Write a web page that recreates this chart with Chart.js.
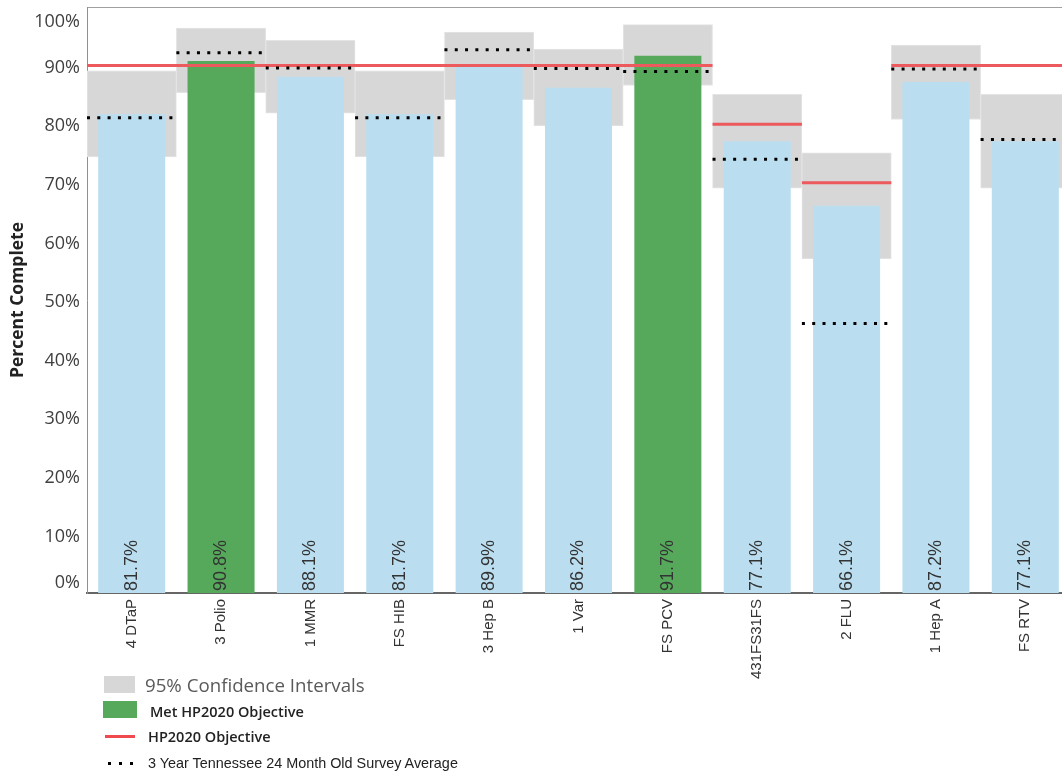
<!DOCTYPE html>
<html>
<head>
<meta charset="utf-8">
<script src="https://cdn.jsdelivr.net/npm/chart.js@4.4.1/dist/chart.umd.min.js"></script>
<style>
  body { margin: 0; background: #fff; overflow: hidden; width: 1062px; height: 776px; position: relative; }
  #wrap { position: absolute; left: 0; top: 0; width: 1080px; height: 680px; }
  .lg { position: absolute; white-space: nowrap; }
  .sw { position: absolute; }
  .dot { position: absolute; width: 3px; height: 3px; background: #000; }
</style>
</head>
<body>
<div id="wrap"><canvas id="vaxChart"></canvas></div>

<div class="sw" style="left:104px;top:676px;width:31px;height:17px;background:#d7d7d7"></div>
<div class="lg" style="left:145px;top:672px;line-height:24px;font:18.7px 'Open Sans',sans-serif;color:#5a5a5a">95% Confidence Intervals</div>
<div class="sw" style="left:103px;top:701px;width:34px;height:17px;background:#56a95b"></div>
<div class="lg" style="left:150px;top:702px;line-height:20px;font:600 14.5px 'Open Sans',sans-serif;color:#222">Met HP2020 Objective</div>
<div class="sw" style="left:105px;top:735px;width:30px;height:3px;background:#f04a4f"></div>
<div class="lg" style="left:148px;top:727px;line-height:20px;font:600 14.5px 'Open Sans',sans-serif;color:#222">HP2020 Objective</div>
<div class="dot" style="left:108px;top:762px"></div>
<div class="dot" style="left:119px;top:762px"></div>
<div class="dot" style="left:130px;top:762px"></div>
<div class="lg" style="left:148px;top:755px;line-height:20px;font:14.4px 'Liberation Sans',Arial,sans-serif;color:#222">3 Year Tennessee 24 Month Old Survey Average</div>

<script>
const categories = ['4 DTaP', '3 Polio', '1 MMR', 'FS HIB', '3 Hep B', '1 Var', 'FS PCV', '431FS31FS', '2 FLU', '1 Hep A', 'FS RTV'];
const percentComplete = [81.7, 90.8, 88.1, 81.7, 89.9, 86.2, 91.7, 77.1, 66.1, 87.2, 77.1];
const ciLow = [74.4, 85.4, 81.9, 74.4, 84.2, 79.7, 86.6, 69.1, 57.0, 80.8, 69.1];
const ciHigh = [89.1, 96.4, 94.3, 89.1, 95.7, 92.8, 97.0, 85.1, 75.1, 93.5, 85.1];
const hp2020Objective = [90, 90, 90, 90, 90, 90, 90, 80, 70, 90, 90];
const surveyAverage = [81.1, 92.2, 89.6, 81.1, 92.7, 89.5, 89.0, 74.0, 46.0, 89.4, 77.4];
const yTickValues = [0, 10, 20, 30, 40, 50, 60, 70, 80, 90, 100];

// one horizontal segment per category on the hidden linear axis
function segments(values) {
  const pts = [];
  values.forEach((v, i) => {
    pts.push({x: i - 0.5, y: v}, {x: i + 0.5, y: v}, {x: i + 0.5, y: null});
  });
  return pts;
}

const barColors = percentComplete.map((v, i) => v >= hp2020Objective[i] ? '#56a95b' : '#badef0');

const valueLabels = {
  id: 'valueLabels',
  afterDatasetsDraw(chart) {
    const ctx = chart.ctx;
    const meta = chart.getDatasetMeta(1);
    ctx.save();
    ctx.font = '18px "Liberation Sans", Arial, sans-serif';
    ctx.fillStyle = '#333';
    ctx.textAlign = 'left';
    ctx.textBaseline = 'middle';
    meta.data.forEach((bar, i) => {
      ctx.save();
      ctx.translate(bar.x, chart.chartArea.bottom - 2);
      ctx.rotate(-Math.PI / 2);
      ctx.fillText(percentComplete[i].toFixed(1) + '%', 0, 0);
      ctx.restore();
    });
    ctx.restore();
  }
};

// Tableau keeps the end labels inside the frame
const edgeTicks = {
  id: 'edgeTicks',
  afterDraw(chart) {
    const y = chart.scales.y;
    const ctx = chart.ctx;
    ctx.save();
    ctx.font = '18px "Open Sans", sans-serif';
    ctx.fillStyle = '#404040';
    ctx.textAlign = 'right';
    ctx.textBaseline = 'middle';
    ctx.fillText(yTickValues[yTickValues.length - 1] + '%', y.right - 7, y.getPixelForValue(100) + 15);
    ctx.fillText(yTickValues[0] + '%', y.right - 7, y.getPixelForValue(0) - 10);
    ctx.restore();
  }
};

new Chart(document.getElementById('vaxChart'), {
  data: {
    labels: categories,
    datasets: [{
      type: 'bar',
      label: '95% Confidence Intervals',
      data: ciLow.map((lo, i) => [lo, ciHigh[i]]),
      backgroundColor: '#d7d7d7',
      borderColor: '#e4e4e4',
      borderWidth: 1,
      borderSkipped: false,
      barPercentage: 1,
      categoryPercentage: 1,
      grouped: false,
      order: 4
    }, {
      type: 'bar',
      label: 'Percent Complete',
      data: percentComplete,
      backgroundColor: barColors,
      barPercentage: 0.75,
      categoryPercentage: 1,
      grouped: false,
      order: 3
    }, {
      type: 'line',
      label: 'HP2020 Objective',
      xAxisID: 'xl',
      data: segments(hp2020Objective),
      borderColor: '#ec5a5e',
      borderWidth: 3,
      pointRadius: 0,
      spanGaps: false,
      order: 2
    }, {
      type: 'line',
      label: '3 Year Tennessee 24 Month Old Survey Average',
      xAxisID: 'xl',
      data: segments(surveyAverage),
      borderColor: '#000',
      borderWidth: 3,
      borderDash: [3, 7.3],
      borderCapStyle: 'butt',
      pointRadius: 0,
      spanGaps: false,
      order: 1
    }]
  },
  options: {
    responsive: true,
    maintainAspectRatio: false,
    animation: false,
    layout: { padding: { top: 7, right: 10, left: 0, bottom: 0 } },
    plugins: { legend: { display: false }, tooltip: { enabled: false } },
    scales: {
      x: {
        type: 'category',
        position: 'bottom',
        grid: { display: false, drawTicks: false },
        border: { display: true, color: '#666', width: 2 },
        ticks: {
          autoSkip: false,
          minRotation: 90,
          maxRotation: 90,
          padding: 6,
          color: '#333',
          font: { family: '"Liberation Sans", Arial, sans-serif', size: 15 }
        },
        afterFit(scale) { scale.height = 87; scale.paddingLeft = 0; scale.paddingRight = 0; }
      },
      xl: {
        type: 'linear',
        position: 'top',
        min: -0.5,
        max: categories.length - 0.5,
        grid: { display: false, drawTicks: false },
        border: { display: true, color: '#a0a0a0', width: 1 },
        ticks: { display: false },
        afterFit(scale) { scale.height = 0; scale.paddingLeft = 0; scale.paddingRight = 0; }
      },
      y: {
        min: 0,
        max: 100,
        grid: { display: false, drawTicks: false },
        border: { display: true, color: '#909090', width: 1 },
        afterBuildTicks(scale) { scale.ticks = yTickValues.map(v => ({value: v})); },
        ticks: {
          padding: 7,
          labelOffset: 2,
          color: '#404040',
          font: { family: '"Open Sans", sans-serif', size: 18 },
          callback: v => (v === 0 || v === 100) ? '' : v + '%'
        },
        title: {
          display: true,
          text: 'Percent Complete',
          color: '#222',
          padding: { top: 8, bottom: 0 },
          font: { family: '"Open Sans", sans-serif', size: 17.5, weight: 'bold' }
        },
        afterFit(scale) { scale.width = 87; scale.paddingTop = 0; scale.paddingBottom = 0; }
      }
    }
  },
  plugins: [valueLabels, edgeTicks]
});
</script>
</body>
</html>
